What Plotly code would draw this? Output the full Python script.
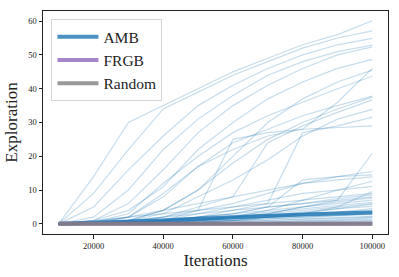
import plotly.graph_objects as go

iterations = [10000, 20000, 30000, 40000, 50000, 60000, 70000, 80000, 90000, 100000]

# Individual AMB runs (light lines)
amb_runs = [
    [0, 14, 30, 35, 40, 45, 49, 53, 56, 60.1],
    [0, 9, 22, 34, 39, 44, 48, 52, 55, 57.1],
    [0, 5, 16, 26, 35, 41, 46, 50, 53, 54.9],
    [0, 2, 10, 22, 31, 38, 44, 48, 51, 52.9],
    [0, 1, 6, 16, 27, 35, 41, 46, 50, 52.4],
    [0, 1, 4, 11, 22, 30, 37, 42, 46, 48.7],
    [0, 0.5, 2, 8, 17, 22, 26, 28, 36, 46.0],
    [0, 0, 1, 4, 10, 20, 30, 37, 42, 45.5],
    [0, 0.5, 3, 12, 20, 27, 32, 36, 40, 43.7],
    [0, 0, 2, 9, 17, 24, 28, 32, 35, 37.8],
    [0, 0.5, 1, 4, 10, 18, 25, 30, 34, 37.5],
    [0, 0, 0.5, 2, 5, 8, 24, 29, 33, 36.7],
    [0, 0, 1, 3, 8, 13, 19, 26, 31, 33.9],
    [0, 0, 0.5, 1, 2, 4, 6, 27, 29, 31.6],
    [0, 0, 0, 1, 4, 25, 27, 28, 28.5, 29.0],
    [0, 0, 0, 0.5, 1, 2, 3, 5, 7, 20.9],
    [0, 0, 1, 2, 4, 6, 9, 12, 14, 15.5],
    [0, 0, 0, 1, 2, 3, 5, 13, 14, 14.5],
    [0, 0.5, 2, 4, 6, 8, 10, 12, 13, 13.9],
    [0, 0, 0, 0, 1, 2, 4, 7, 10, 12.6],
    [0, 0, 0.5, 1, 3, 5, 7, 9, 10, 11.1],
    [0, 0, 0, 0, 0.5, 1, 2, 3, 5, 9.6],
    [0, 0, 0.5, 1, 2, 3, 5, 6, 7.5, 8.6],
    [0, 0, 0, 0.5, 1, 2, 3, 5, 6.5, 7.7],
    [0, 0, 0.5, 1, 1.5, 2.5, 3.5, 4.5, 5.5, 6.4],
    [0, 0, 0, 0.5, 1, 1.5, 2.5, 3.5, 4.5, 5.2],
    [0, 1, 2, 3, 4, 5, 6, 7, 8, 9.0],
    [0, 0.5, 1, 2, 3, 4, 5, 6, 7, 8.0],
    [0, 0, 1, 1.5, 2, 3, 4, 5, 6, 7.0],
    [0, 0, 0.5, 1, 1.5, 2, 3, 4, 5, 6.0],
    [0, 0, 0, 0, 0.5, 1, 2, 3, 4.5, 5.8],
    [0, 0, 0.5, 1, 1.5, 2, 2.5, 3, 3.5, 4.0],
    [0, 0, 0, 0.5, 1, 1.5, 2, 2.5, 3, 3.5],
    [0, 0, 0, 0, 0.5, 1, 1.5, 2, 2.5, 3.0],
    [0, 0, 0.5, 0.5, 1, 1, 1.5, 2, 2.3, 2.8],
    [0, 0, 0, 0.5, 0.5, 1, 1, 1.5, 1.8, 2.2],
    [0, 0, 0, 0, 0.5, 0.5, 1, 1.2, 1.6, 2.0],
    [0, 0, 0, 0, 0, 0.5, 0.5, 1, 1.2, 1.8],
    [0, 0, 0, 0, 0, 0, 0.5, 0.8, 1, 1.3],
    [0, 0, 0, 0, 0, 0, 0, 0.5, 0.8, 1.0],
    [0, 0, 0, 0, 0, 0, 0, 0, 0.5, 0.8],
    [0, 0, 0, 0, 0, 0, 0, 0, 0, 0.5],
    [0, 0, 0, 0, 0, 0, 0, 0, 0, 0.3],
    [0, 0, 0, 0, 1, 1.5, 2, 2.5, 3, 3.4],
    [0, 0, 0.5, 1, 1.5, 2, 2.5, 3, 3.5, 4.5],
]

amb_mean = [0, 0.3, 0.6, 1.0, 1.5, 2.0, 2.4, 2.8, 3.1, 3.4]
frgb = [0, 0, 0, 0, 0, 0, 0, 0, 0, 0]
random_vals = [0, 0, 0, 0, 0, 0, 0, 0, 0, 0]

x_ticks = [20000, 40000, 60000, 80000, 100000]
x_tick_labels = ["20000", "40000", "60000", "80000", "100000"]
y_ticks = [0, 10, 20, 30, 40, 50, 60]
y_tick_labels = ["0", "10", "20", "30", "40", "50", "60"]

FONT = "Liberation Serif"

fig = go.Figure()

for run in amb_runs:
    fig.add_trace(go.Scatter(
        x=iterations, y=run, mode="lines",
        line=dict(color="rgba(31,119,180,0.25)", width=1.2),
        showlegend=False, hoverinfo="skip",
    ))

fig.add_trace(go.Scatter(
    x=iterations, y=amb_mean, mode="lines", name="AMB",
    line=dict(color="rgba(31,119,180,0.8)", width=4),
))
fig.add_trace(go.Scatter(
    x=iterations, y=frgb, mode="lines", name="FRGB",
    line=dict(color="rgba(148,103,189,0.8)", width=4),
))
fig.add_trace(go.Scatter(
    x=iterations, y=random_vals, mode="lines", name="Random",
    line=dict(color="rgba(127,127,127,0.8)", width=4),
))

axis_common = dict(
    showgrid=False, zeroline=False, showline=True, linecolor="#222222",
    linewidth=1, mirror=True, ticks="outside", ticklen=3.5, tickwidth=1,
    tickcolor="#222222", tickfont=dict(family=FONT, size=8.5, color="#222222"),
    automargin=False,
)

fig.update_layout(
    width=399, height=277,
    margin=dict(l=43.3, r=11.3, t=10.7, b=42.7),
    paper_bgcolor="white", plot_bgcolor="white",
    font=dict(family=FONT, color="#222222"),
    xaxis=dict(range=[5500, 104500], tickvals=x_ticks, ticktext=x_tick_labels,
               title=dict(text="Iterations", font=dict(family=FONT, size=17), standoff=4),
               **axis_common),
    yaxis=dict(range=[-3, 63], tickvals=y_ticks, ticktext=y_tick_labels,
               title=dict(text="Exploration", font=dict(family=FONT, size=17), standoff=6),
               **axis_common),
    legend=dict(x=0.0244, y=0.963, xanchor="left", yanchor="top",
                bgcolor="rgba(255,255,255,0.8)", bordercolor="#d5d5d5", borderwidth=1,
                font=dict(family=FONT, size=15.5, color="#222222"),
                itemwidth=41, tracegroupgap=0),
    showlegend=True,
)

fig.write_html("out.html", config={"displayModeBar": False},
               post_script="document.body.style.margin='0';")
